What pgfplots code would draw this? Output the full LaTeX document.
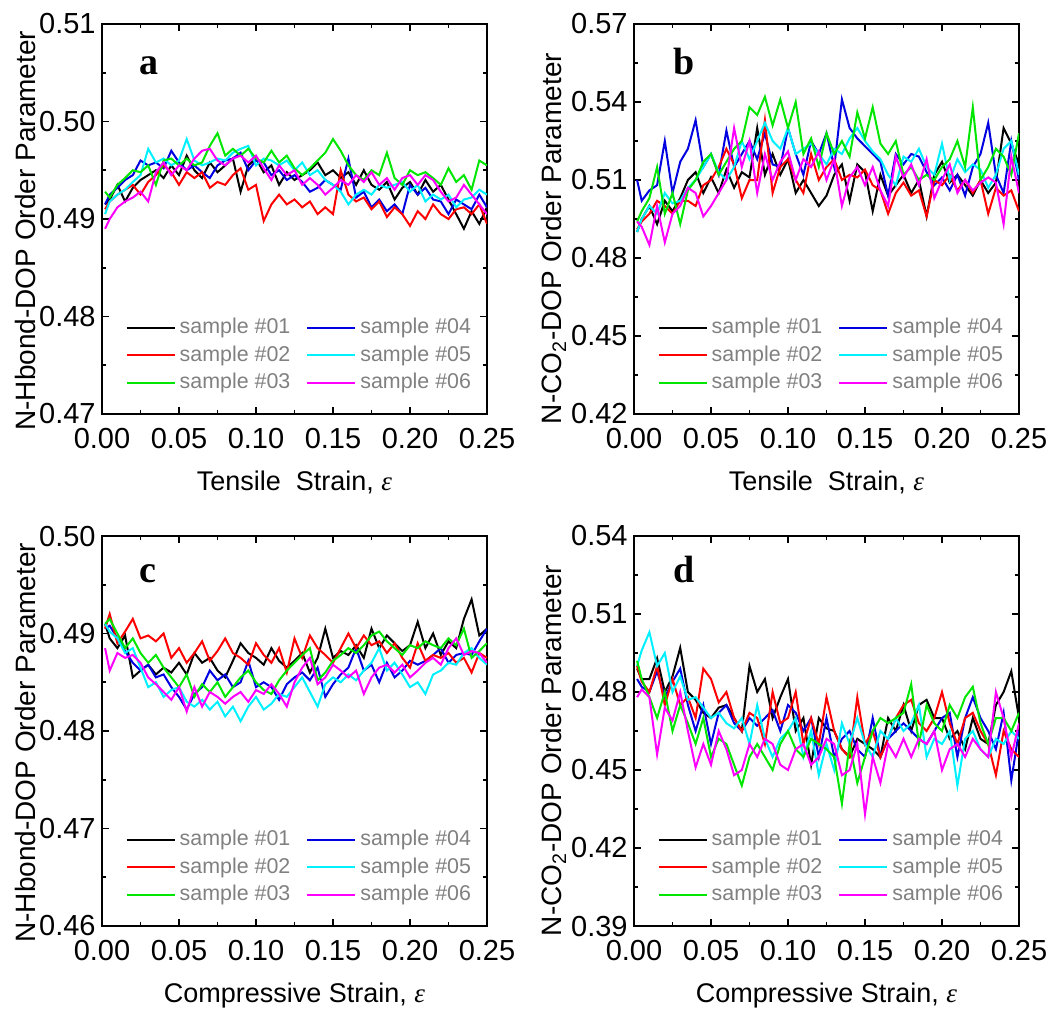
\documentclass[border=0pt]{standalone}
\usepackage{pgfplots}
\usepackage{pgfplotstable}
\pgfplotsset{compat=1.18}
\usepackage{fontspec}
\setmainfont{Liberation Sans}
\newfontfamily\serifbf{Liberation Serif}
\definecolor{cgreen}{RGB}{0,230,0}
\definecolor{cblue}{RGB}{0,0,225}
\definecolor{ccyan}{RGB}{0,240,255}
\definecolor{cmag}{RGB}{255,0,255}
\definecolor{cred}{RGB}{255,0,0}
\definecolor{lgray}{RGB}{128,128,128}

\pgfplotstableread{
x      s1      s2      s3      s4      s5      s6
0.002  0.4915  0.4910  0.4928  0.4915  0.4905  0.4890
0.005  0.4920  0.4918  0.4922  0.4925  0.4918  0.4900
0.010  0.4935  0.4925  0.4935  0.4932  0.4925  0.4912
0.015  0.4918  0.4930  0.4942  0.4940  0.4930  0.4918
0.020  0.4932  0.4935  0.4950  0.4945  0.4938  0.4922
0.025  0.4940  0.4925  0.4948  0.4960  0.4945  0.4928
0.030  0.4945  0.4938  0.4955  0.4955  0.4972  0.4918
0.035  0.4950  0.4945  0.4935  0.4958  0.4958  0.4948
0.040  0.4942  0.4955  0.4960  0.4952  0.4962  0.4958
0.045  0.4955  0.4948  0.4962  0.4970  0.4955  0.4945
0.050  0.4945  0.4935  0.4955  0.4958  0.4960  0.4955
0.055  0.4965  0.4948  0.4962  0.4950  0.4982  0.4950
0.060  0.4950  0.4942  0.4955  0.4955  0.4960  0.4962
0.065  0.4942  0.4948  0.4958  0.4948  0.4955  0.4970
0.070  0.4958  0.4932  0.4975  0.4942  0.4958  0.4972
0.075  0.4948  0.4938  0.4988  0.4955  0.4962  0.4960
0.080  0.4955  0.4935  0.4965  0.4960  0.4960  0.4955
0.085  0.4962  0.4945  0.4972  0.4962  0.4968  0.4962
0.090  0.4928  0.4952  0.4965  0.4968  0.4972  0.4965
0.095  0.4955  0.4930  0.4972  0.4950  0.4975  0.4958
0.100  0.4962  0.4935  0.4962  0.4960  0.4955  0.4965
0.105  0.4948  0.4898  0.4958  0.4958  0.4962  0.4952
0.110  0.4955  0.4915  0.4970  0.4945  0.4960  0.4940
0.115  0.4935  0.4925  0.4958  0.4950  0.4955  0.4955
0.120  0.4948  0.4915  0.4965  0.4940  0.4960  0.4945
0.125  0.4940  0.4920  0.4952  0.4945  0.4950  0.4950
0.130  0.4945  0.4912  0.4945  0.4938  0.4958  0.4935
0.135  0.4950  0.4918  0.4952  0.4928  0.4945  0.4942
0.140  0.4958  0.4905  0.4960  0.4932  0.4950  0.4935
0.145  0.4945  0.4912  0.4968  0.4940  0.4940  0.4925
0.150  0.4950  0.4905  0.4982  0.4935  0.4935  0.4932
0.155  0.4942  0.4950  0.4970  0.4930  0.4928  0.4940
0.160  0.4948  0.4925  0.4955  0.4962  0.4915  0.4935
0.165  0.4935  0.4918  0.4945  0.4922  0.4925  0.4945
0.170  0.4950  0.4922  0.4940  0.4928  0.4930  0.4938
0.175  0.4935  0.4910  0.4950  0.4912  0.4925  0.4948
0.180  0.4930  0.4918  0.4945  0.4920  0.4935  0.4935
0.185  0.4938  0.4902  0.4968  0.4908  0.4932  0.4942
0.190  0.4920  0.4912  0.4942  0.4915  0.4935  0.4930
0.195  0.4932  0.4905  0.4935  0.4905  0.4938  0.4942
0.200  0.4938  0.4893  0.4950  0.4935  0.4928  0.4945
0.205  0.4925  0.4908  0.4945  0.4925  0.4935  0.4935
0.210  0.4940  0.4900  0.4948  0.4932  0.4918  0.4945
0.215  0.4928  0.4915  0.4942  0.4920  0.4925  0.4940
0.220  0.4935  0.4905  0.4935  0.4918  0.4920  0.4928
0.225  0.4920  0.4900  0.4952  0.4905  0.4925  0.4918
0.230  0.4905  0.4910  0.4938  0.4920  0.4912  0.4922
0.235  0.4890  0.4912  0.4945  0.4915  0.4920  0.4935
0.240  0.4908  0.4905  0.4930  0.4910  0.4922  0.4925
0.245  0.4895  0.4915  0.4960  0.4925  0.4930  0.4915
0.250  0.4912  0.4895  0.4955  0.4912  0.4925  0.4905
}\tabA

\pgfplotstableread{
x      s1     s2     s3     s4     s5     s6
0.002  0.490  0.491  0.494  0.510  0.490  0.494
0.005  0.495  0.494  0.498  0.502  0.495  0.492
0.010  0.500  0.497  0.503  0.506  0.500  0.485
0.015  0.493  0.502  0.515  0.508  0.497  0.500
0.020  0.502  0.500  0.497  0.525  0.505  0.486
0.025  0.498  0.497  0.505  0.505  0.501  0.497
0.030  0.503  0.502  0.493  0.517  0.502  0.500
0.035  0.510  0.502  0.506  0.522  0.507  0.507
0.040  0.513  0.500  0.510  0.533  0.510  0.505
0.045  0.505  0.508  0.517  0.515  0.515  0.496
0.050  0.511  0.510  0.520  0.520  0.520  0.500
0.055  0.505  0.515  0.512  0.512  0.513  0.505
0.060  0.514  0.522  0.517  0.529  0.510  0.510
0.065  0.507  0.516  0.522  0.515  0.515  0.530
0.070  0.513  0.503  0.525  0.520  0.525  0.515
0.075  0.511  0.510  0.538  0.525  0.518  0.525
0.080  0.530  0.510  0.535  0.518  0.525  0.505
0.085  0.512  0.533  0.542  0.528  0.532  0.520
0.090  0.520  0.505  0.531  0.516  0.525  0.510
0.095  0.512  0.515  0.541  0.515  0.522  0.517
0.100  0.518  0.518  0.530  0.530  0.530  0.521
0.105  0.505  0.510  0.540  0.520  0.520  0.510
0.110  0.510  0.505  0.520  0.512  0.522  0.518
0.115  0.505  0.520  0.526  0.525  0.524  0.515
0.120  0.500  0.510  0.515  0.520  0.520  0.521
0.125  0.504  0.515  0.528  0.528  0.516  0.510
0.130  0.512  0.518  0.520  0.515  0.522  0.518
0.135  0.516  0.510  0.525  0.541  0.520  0.500
0.140  0.502  0.512  0.519  0.530  0.526  0.511
0.145  0.516  0.511  0.536  0.526  0.530  0.515
0.150  0.513  0.514  0.526  0.523  0.525  0.508
0.155  0.498  0.508  0.538  0.520  0.521  0.515
0.160  0.512  0.506  0.524  0.517  0.518  0.506
0.165  0.504  0.497  0.520  0.504  0.512  0.500
0.170  0.508  0.505  0.525  0.520  0.508  0.519
0.175  0.512  0.509  0.512  0.516  0.519  0.511
0.180  0.505  0.504  0.515  0.520  0.517  0.516
0.185  0.510  0.506  0.510  0.519  0.522  0.508
0.190  0.496  0.496  0.512  0.513  0.515  0.518
0.195  0.512  0.510  0.510  0.508  0.512  0.503
0.200  0.517  0.508  0.515  0.511  0.524  0.510
0.205  0.509  0.512  0.518  0.506  0.510  0.516
0.210  0.512  0.506  0.525  0.512  0.518  0.505
0.215  0.508  0.510  0.515  0.504  0.513  0.510
0.220  0.504  0.505  0.538  0.515  0.516  0.506
0.225  0.510  0.510  0.510  0.520  0.514  0.509
0.230  0.505  0.497  0.515  0.532  0.507  0.511
0.235  0.509  0.507  0.522  0.512  0.512  0.509
0.240  0.530  0.504  0.519  0.505  0.522  0.493
0.245  0.524  0.506  0.512  0.525  0.525  0.519
0.250  0.516  0.498  0.528  0.510  0.512  0.505
}\tabB

\pgfplotstableread{
x      s1      s2      s3      s4      s5      s6
0.002  0.4910  0.4905  0.4910  0.4905  0.4910  0.4885
0.005  0.4895  0.4920  0.4915  0.4908  0.4902  0.4862
0.010  0.4885  0.4890  0.4900  0.4895  0.4895  0.4880
0.015  0.4898  0.4902  0.4885  0.4882  0.4880  0.4875
0.020  0.4855  0.4915  0.4895  0.4870  0.4885  0.4878
0.025  0.4862  0.4895  0.4880  0.4862  0.4865  0.4870
0.030  0.4868  0.4898  0.4870  0.4868  0.4845  0.4855
0.035  0.4858  0.4892  0.4878  0.4855  0.4850  0.4848
0.040  0.4865  0.4900  0.4865  0.4858  0.4835  0.4840
0.045  0.4860  0.4875  0.4855  0.4845  0.4842  0.4832
0.050  0.4870  0.4885  0.4845  0.4835  0.4845  0.4845
0.055  0.4858  0.4870  0.4858  0.4822  0.4830  0.4820
0.060  0.4880  0.4880  0.4835  0.4838  0.4825  0.4845
0.065  0.4870  0.4892  0.4848  0.4845  0.4832  0.4825
0.070  0.4875  0.4872  0.4840  0.4862  0.4822  0.4840
0.075  0.4862  0.4882  0.4850  0.4852  0.4830  0.4835
0.080  0.4855  0.4895  0.4835  0.4858  0.4815  0.4828
0.085  0.4872  0.4880  0.4845  0.4845  0.4825  0.4835
0.090  0.4890  0.4875  0.4855  0.4850  0.4810  0.4840
0.095  0.4880  0.4868  0.4862  0.4872  0.4825  0.4830
0.100  0.4875  0.4890  0.4850  0.4845  0.4835  0.4842
0.105  0.4868  0.4878  0.4842  0.4850  0.4822  0.4838
0.110  0.4885  0.4870  0.4838  0.4845  0.4828  0.4848
0.115  0.4872  0.4885  0.4852  0.4832  0.4838  0.4838
0.120  0.4865  0.4860  0.4862  0.4848  0.4835  0.4825
0.125  0.4872  0.4895  0.4870  0.4855  0.4845  0.4850
0.130  0.4880  0.4875  0.4878  0.4860  0.4855  0.4865
0.135  0.4860  0.4898  0.4885  0.4852  0.4840  0.4875
0.140  0.4875  0.4885  0.4852  0.4865  0.4825  0.4848
0.145  0.4905  0.4878  0.4860  0.4835  0.4848  0.4855
0.150  0.4875  0.4870  0.4872  0.4848  0.4855  0.4868
0.155  0.4882  0.4885  0.4878  0.4858  0.4850  0.4862
0.160  0.4878  0.4900  0.4885  0.4865  0.4858  0.4855
0.165  0.4888  0.4885  0.4880  0.4885  0.4852  0.4862
0.170  0.4875  0.4898  0.4888  0.4862  0.4862  0.4838
0.175  0.4905  0.4888  0.4898  0.4868  0.4870  0.4855
0.180  0.4885  0.4892  0.4902  0.4850  0.4885  0.4865
0.185  0.4898  0.4880  0.4892  0.4870  0.4862  0.4868
0.190  0.4890  0.4890  0.4885  0.4855  0.4870  0.4860
0.195  0.4882  0.4875  0.4878  0.4862  0.4858  0.4868
0.200  0.4888  0.4865  0.4888  0.4872  0.4845  0.4855
0.205  0.4912  0.4890  0.4885  0.4868  0.4850  0.4862
0.210  0.4885  0.4872  0.4892  0.4872  0.4838  0.4870
0.215  0.4900  0.4878  0.4888  0.4878  0.4858  0.4875
0.220  0.4878  0.4875  0.4885  0.4885  0.4862  0.4868
0.225  0.4892  0.4880  0.4895  0.4870  0.4870  0.4885
0.230  0.4885  0.4870  0.4888  0.4878  0.4868  0.4895
0.235  0.4915  0.4875  0.4905  0.4880  0.4880  0.4878
0.240  0.4935  0.4860  0.4875  0.4878  0.4885  0.4882
0.245  0.4898  0.4880  0.4882  0.4892  0.4875  0.4880
0.250  0.4905  0.4875  0.4890  0.4905  0.4868  0.4870
}\tabC

\pgfplotstableread{
x      s1     s2     s3     s4     s5     s6
0.002  0.489  0.490  0.492  0.485  0.490  0.478
0.005  0.485  0.484  0.485  0.482  0.496  0.481
0.010  0.485  0.480  0.478  0.480  0.503  0.478
0.015  0.493  0.490  0.470  0.488  0.490  0.456
0.020  0.480  0.475  0.480  0.478  0.495  0.474
0.025  0.486  0.485  0.465  0.484  0.480  0.469
0.030  0.497  0.475  0.475  0.489  0.486  0.480
0.035  0.480  0.478  0.468  0.475  0.477  0.465
0.040  0.477  0.470  0.460  0.465  0.478  0.451
0.045  0.472  0.489  0.470  0.475  0.474  0.460
0.050  0.470  0.485  0.455  0.460  0.470  0.452
0.055  0.474  0.476  0.462  0.472  0.472  0.465
0.060  0.475  0.480  0.460  0.475  0.468  0.458
0.065  0.470  0.470  0.452  0.468  0.466  0.448
0.070  0.465  0.465  0.444  0.465  0.470  0.450
0.075  0.490  0.472  0.455  0.470  0.460  0.460
0.080  0.480  0.470  0.460  0.467  0.475  0.455
0.085  0.485  0.460  0.455  0.470  0.462  0.462
0.090  0.470  0.480  0.450  0.473  0.455  0.460
0.095  0.478  0.468  0.460  0.465  0.462  0.452
0.100  0.485  0.470  0.465  0.475  0.465  0.450
0.105  0.465  0.480  0.458  0.472  0.470  0.458
0.110  0.470  0.460  0.455  0.465  0.455  0.460
0.115  0.452  0.470  0.462  0.470  0.465  0.452
0.120  0.470  0.460  0.460  0.455  0.448  0.455
0.125  0.466  0.478  0.458  0.470  0.460  0.462
0.130  0.465  0.465  0.455  0.455  0.450  0.460
0.135  0.458  0.458  0.437  0.462  0.468  0.448
0.140  0.455  0.455  0.460  0.465  0.460  0.450
0.145  0.462  0.478  0.445  0.458  0.470  0.460
0.150  0.460  0.460  0.455  0.455  0.460  0.433
0.155  0.458  0.465  0.465  0.470  0.455  0.455
0.160  0.455  0.455  0.470  0.455  0.465  0.445
0.165  0.470  0.462  0.468  0.462  0.462  0.460
0.170  0.465  0.470  0.470  0.465  0.470  0.455
0.175  0.475  0.475  0.472  0.468  0.465  0.462
0.180  0.465  0.477  0.483  0.465  0.468  0.455
0.185  0.475  0.468  0.460  0.462  0.475  0.462
0.190  0.477  0.465  0.475  0.460  0.455  0.460
0.195  0.470  0.470  0.468  0.465  0.462  0.465
0.200  0.470  0.480  0.465  0.470  0.460  0.450
0.205  0.462  0.468  0.475  0.472  0.465  0.458
0.210  0.465  0.460  0.470  0.455  0.444  0.460
0.215  0.458  0.470  0.478  0.470  0.462  0.455
0.220  0.470  0.472  0.482  0.478  0.465  0.462
0.225  0.462  0.465  0.468  0.470  0.458  0.458
0.230  0.460  0.460  0.460  0.465  0.455  0.455
0.235  0.475  0.448  0.470  0.458  0.462  0.480
0.240  0.480  0.465  0.470  0.472  0.460  0.470
0.245  0.488  0.458  0.465  0.446  0.465  0.455
0.250  0.470  0.455  0.472  0.465  0.462  0.468
}\tabD

\pgfplotsset{
  panel/.style={
    scale only axis, width=192.5pt, height=195pt,
    xmin=0, xmax=0.25, xtick={0,0.05,0.1,0.15,0.2,0.25},
    minor x tick num=1, minor y tick num=1,
    tick align=inside, xtick pos=both, ytick pos=both,
    major tick length=3.5pt, minor tick length=2pt,
    every tick/.style={black, line width=0.9pt},
    axis line style={line width=1pt},
    scaled ticks=false,
    tick label style={font=\fontsize{14.5}{16}\selectfont, inner sep=0.5pt},
    xticklabel shift=6.5pt, yticklabel shift=2.5pt,
    /pgf/number format/assume math mode=true,
    xticklabel style={/pgf/number format/fixed, /pgf/number format/fixed zerofill, /pgf/number format/precision=2},
    yticklabel style={/pgf/number format/fixed, /pgf/number format/fixed zerofill, /pgf/number format/precision=2},
    xlabel style={font=\fontsize{13.5}{15}\selectfont, at={(axis description cs:0.5,-0.195)}, anchor=base},
    ylabel style={font=\fontsize{14}{16}\selectfont, anchor=center},
    legend columns=2,
    legend style={draw=none, fill=none, font=\fontsize{10.7}{12}\selectfont, text=lgray,
      at={(axis description cs:0.045,0.035)}, anchor=south west, row sep=0.5pt,
      /tikz/column 2/.style={column sep=6pt}},
    legend cell align=left,
    legend image code/.code={\draw[#1] (0pt,0pt) -- (24pt,0pt);},
    every axis plot/.append style={line width=1pt},
  }
}
\newcommand{\eps}{{\serifbf\itshape ε}}
\newcommand{\plotsix}[1]{%
\addplot[black] table[x=x,y=s1]{#1};
\addplot[cblue] table[x=x,y=s4]{#1};
\addplot[cred] table[x=x,y=s2]{#1};
\addplot[ccyan] table[x=x,y=s5]{#1};
\addplot[cgreen] table[x=x,y=s3]{#1};
\addplot[cmag] table[x=x,y=s6]{#1};
\legend{sample \#01,sample \#04,sample \#02,sample \#05,sample \#03,sample \#06}}

\begin{document}
\begin{tikzpicture}
\path[use as bounding box] (0,0) rectangle (526.5pt,504.5pt);

% panel a
\begin{axis}[panel, at={(51pt,297.5pt)}, anchor=south west,
  ymin=0.47, ymax=0.51, ytick={0.47,0.48,0.49,0.50,0.51},
  xlabel={Tensile\ \ Strain, \eps}, ylabel={N-Hbond-DOP Order Parameter},
  ylabel style={at={(axis description cs:-0.198,0.47)}}]
\plotsix{\tabA}
\node[anchor=base west, font=\serifbf\bfseries\fontsize{19}{21}\selectfont] at (axis description cs:0.08,0.87) {a};
\end{axis}

% panel b
\begin{axis}[panel, at={(317pt,297.5pt)}, anchor=south west,
  ymin=0.42, ymax=0.57, ytick={0.42,0.45,0.48,0.51,0.54,0.57},
  xlabel={Tensile\ \ Strain, \eps}, ylabel={N-CO\textsubscript{2}-DOP Order Parameter},
  ylabel style={at={(axis description cs:-0.208,0.45)}}]
\plotsix{\tabB}
\node[anchor=base west, font=\serifbf\bfseries\fontsize{19}{21}\selectfont] at (axis description cs:0.085,0.87) {b};
\end{axis}

% panel c
\begin{axis}[panel, at={(51pt,41.5pt)}, anchor=south west,
  ymin=0.46, ymax=0.50, ytick={0.46,0.47,0.48,0.49,0.50},
  xlabel={Compressive Strain, \eps}, ylabel={N-Hbond-DOP Order Parameter},
  ylabel style={at={(axis description cs:-0.198,0.47)}}]
\plotsix{\tabC}
\node[anchor=base west, font=\serifbf\bfseries\fontsize{19}{21}\selectfont] at (axis description cs:0.08,0.88) {c};
\end{axis}

% panel d
\begin{axis}[panel, at={(317pt,41.5pt)}, anchor=south west,
  ymin=0.39, ymax=0.54, ytick={0.39,0.42,0.45,0.48,0.51,0.54},
  xlabel={Compressive Strain, \eps}, ylabel={N-CO\textsubscript{2}-DOP Order Parameter},
  ylabel style={at={(axis description cs:-0.208,0.45)}}]
\plotsix{\tabD}
\node[anchor=base west, font=\serifbf\bfseries\fontsize{19}{21}\selectfont] at (axis description cs:0.085,0.88) {d};
\end{axis}
\end{tikzpicture}
\end{document}
